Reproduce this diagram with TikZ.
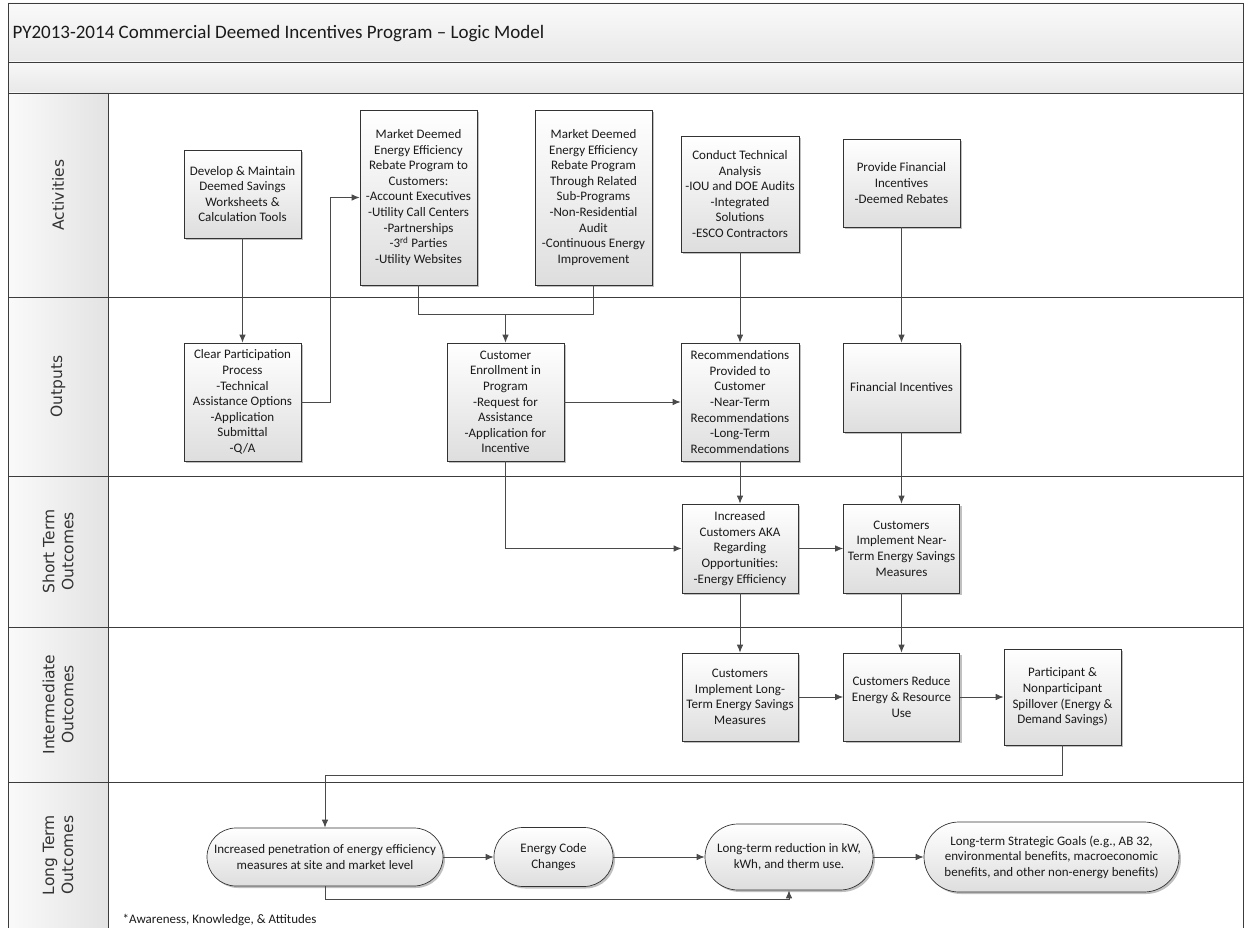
\documentclass[tikz,border=0pt]{standalone}
\usepackage{fontspec}
\setmainfont{Carlito}
\newfontfamily\lanefont{DejaVu Sans}
\usetikzlibrary{arrows.meta,shadows,calc}
\definecolor{linec}{HTML}{4A4A4A}
\definecolor{framec}{HTML}{3C3C3C}
\definecolor{txt}{HTML}{1A1A1A}
\begin{document}
\begin{tikzpicture}[x=1pt,y=-1pt,
  boxbase/.style={draw=black!80, line width=0.7pt, top color=white, bottom color=black!13,
    drop shadow={shadow xshift=2pt,shadow yshift=-2pt,fill=black!45,opacity=0.55},
    align=center, inner sep=0pt, text=txt,
    font=\fontsize{13}{15.6}\selectfont},
  box/.style={boxbase, minimum width=117pt},
  pill/.style={boxbase, rounded corners=#1},
  ln/.style={draw=linec, line width=0.8pt},
  arr/.style={ln, -{Latex[length=8pt,width=6.5pt]}},
  lanelabel/.style={rotate=90, align=center, text=black!80,
    font=\lanefont\fontsize{15.5}{19}\selectfont}
]
\useasboundingbox (0,0) rectangle (1251,928);
% ---------- frame / bands ----------
\shade[top color=black!2, bottom color=black!9] (8,3) rectangle (1243,62);
\shade[top color=black!3, bottom color=black!9] (8,62) rectangle (1243,93);
\shade[left color=black!2, right color=black!11] (8,93) rectangle (108,928);
\draw[framec, line width=0.9pt] (8,3) rectangle (1243,928);
\foreach \yy in {62,93,297,476,627,782}
  \draw[framec, line width=0.9pt] (8,\yy) -- (1243,\yy);
\draw[framec, line width=0.9pt] (108,93) -- (108,928);
\node[anchor=west, text=txt, font=\fontsize{19}{22}\selectfont] (title) at (9,34)
  {PY2013-2014 Commercial Deemed Incentives Program – Logic Model};
% ---------- lane labels ----------
\node[lanelabel] (lab1) at (58,195) {Activities};
\node[lanelabel] (lab2) at (58,386.5) {Outputs};
\node[lanelabel] (lab3) at (58,551.5) {Short Term\\Outcomes};
\node[lanelabel] (lab4) at (58,704.5) {Intermediate\\Outcomes};
\node[lanelabel] (lab5) at (58,855) {Long Term\\Outcomes};
% ---------- activities ----------
\node[box, minimum height=88pt] (A1) at (242.5,194)
  {Develop \& Maintain\\Deemed Savings\\Worksheets \&\\Calculation Tools};
\node[box, minimum height=175pt] (A2) at (418.5,197.5)
  {Market Deemed\\Energy Efficiency\\Rebate Program to\\Customers:\\-Account Executives\\-Utility Call Centers\\-Partnerships\\-3\textsuperscript{rd} Parties\\-Utility Websites};
\node[box, minimum height=175pt] (A3) at (593.5,197.5)
  {Market Deemed\\Energy Efficiency\\Rebate Program\\Through Related\\Sub-Programs\\-Non-Residential\\Audit\\-Continuous Energy\\Improvement};
\node[box, minimum width=118pt, minimum height=116pt] (A4) at (740,194)
  {Conduct Technical\\Analysis\\-IOU and DOE Audits\\-Integrated\\Solutions\\-ESCO Contractors};
\node[box, minimum height=88pt] (A5) at (901.5,183)
  {Provide Financial\\Incentives\\-Deemed Rebates};
% ---------- outputs ----------
\node[box, minimum height=118pt] (O1) at (242.5,402)
  {Clear Participation\\Process\\-Technical\\Assistance Options\\-Application\\Submittal\\-Q/A};
\node[box, minimum height=118pt] (O2) at (505.5,402)
  {Customer\\Enrollment in\\Program\\-Request for\\Assistance\\-Application for\\Incentive};
\node[box, minimum width=118pt, minimum height=118pt] (O3) at (740,402)
  {Recommendations\\Provided to\\Customer\\-Near-Term\\Recommendations\\-Long-Term\\Recommendations};
\node[box, minimum height=89pt] (O4) at (901.5,387.5) {Financial Incentives};
% ---------- short term ----------
\node[box, minimum width=116pt, minimum height=89pt] (S1) at (740,548.5)
  {Increased\\Customers AKA\\Regarding\\Opportunities:\\-Energy Efficiency};
\node[box, minimum width=116pt, minimum height=89pt] (S2) at (901.5,548.5)
  {Customers\\Implement Near-\\Term Energy Savings\\Measures};
% ---------- intermediate ----------
\node[box, minimum width=116pt, minimum height=88pt] (I1) at (740,697)
  {Customers\\Implement Long-\\Term Energy Savings\\Measures};
\node[box, minimum width=116pt, minimum height=88pt] (I2) at (901.5,697)
  {Customers Reduce\\Energy \& Resource\\Use};
\node[box, minimum width=117pt, minimum height=96pt] (I3) at (1062.5,697)
  {Participant \&\\Nonparticipant\\Spillover (Energy \&\\Demand Savings)};
% ---------- long term ----------
\node[pill=29pt, minimum width=236pt, minimum height=58pt] (L1) at (325,857)
  {Increased penetration of energy efficiency\\measures at site and market level};
\node[pill=29pt, minimum width=119pt, minimum height=59pt] (L2) at (553.5,857)
  {Energy Code\\Changes};
\node[pill=33pt, minimum width=168pt, minimum height=66pt] (L3) at (789,857)
  {Long-term reduction in kW,\\kWh, and therm use.};
\node[pill=35pt, minimum width=255pt, minimum height=70pt] (L4) at (1051.5,857)
  {Long-term Strategic Goals (e.g., AB 32,\\environmental benefits, macroeconomic\\benefits, and other non-energy benefits)};
\node[anchor=west, text=txt, font=\fontsize{13}{15.6}\selectfont] (fn) at (119,920)
  {*Awareness, Knowledge, \& Attitudes};
% ---------- connectors ----------
\draw[arr] (A1.south) -- (O1.north);
\draw[arr] (O1.east) -- ++(29,0) |- (A2.west);
\coordinate (mj) at (505.5,314);
\draw[ln] (A2.south) |- (mj);
\draw[ln] (A3.south) |- (mj);
\draw[arr] (mj) -- (O2.north);
\draw[arr] (O2.east) -- (O3.west);
\draw[arr] (A4.south) -- (O3.north);
\draw[arr] (A5.south) -- (O4.north);
\draw[arr] (O2.south) |- (S1.west);
\draw[arr] (O3.south) -- (S1.north);
\draw[arr] (O4.south) -- (S2.north);
\draw[arr] (S1.east) -- (S2.west);
\draw[arr] (S1.south) -- (I1.north);
\draw[arr] (S2.south) -- (I2.north);
\draw[arr] (I1.east) -- (I2.west);
\draw[arr] (I2.east) -- (I3.west);
\draw[arr] (I3.south) -- ++(0,30) -| (L1.north);
\draw[arr] (L1.east) -- (L2.west);
\draw[arr] (L2.east) -- (L3.west);
\draw[arr] (L3.east) -- (L4.west);
\draw[arr] (L1.south) -- ++(0,13) -| (L3.south);
\end{tikzpicture}
\end{document}
